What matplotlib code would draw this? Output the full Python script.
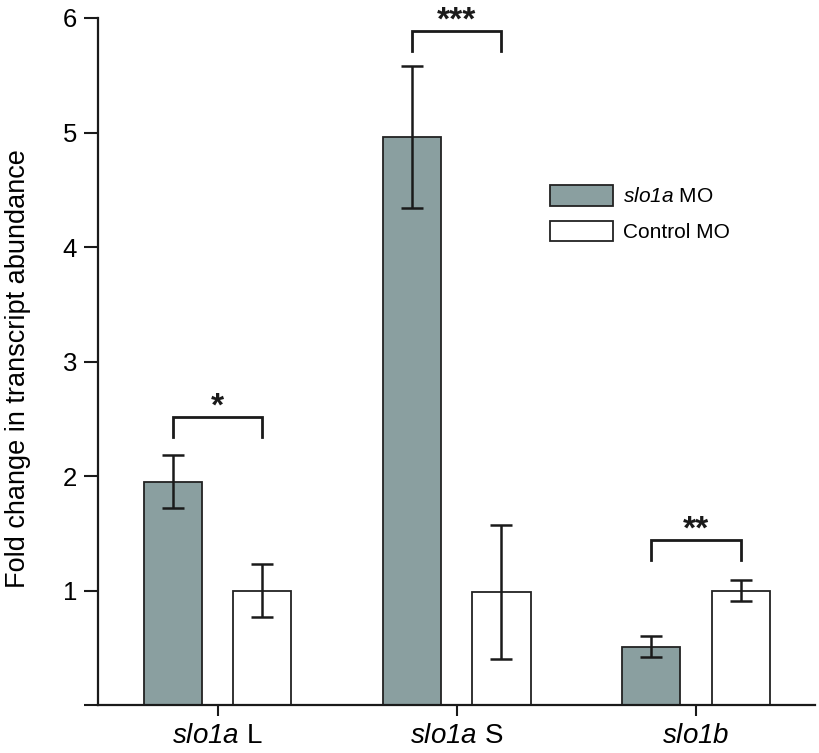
"""Fold change in transcript abundance: slo1a MO vs Control MO."""

import matplotlib
matplotlib.use("Agg")
import matplotlib.pyplot as plt
import numpy as np

plt.rcParams["font.family"] = ["Liberation Sans", "DejaVu Sans"]
# mathtext is only used for the italic gene names; digits fall back to "rm",
# so make both italic to keep "slo1a" fully slanted
plt.rcParams["mathtext.fontset"] = "custom"
plt.rcParams["mathtext.it"] = "Liberation Sans:italic"
plt.rcParams["mathtext.rm"] = "Liberation Sans:italic"

genes = ["slo1a", "slo1a", "slo1b"]
gene_suffix = [" L", " S", ""]
slo1a_mo = [1.95, 4.96, 0.51]
slo1a_mo_err = [0.23, 0.62, 0.09]
control_mo = [1.00, 0.99, 1.00]
control_mo_err = [0.23, 0.585, 0.09]
sig_labels = ["*", "***", "**"]
sig_heights = [2.515, 5.886, 1.44]

GRAY = "#8a9fa0"
INK = "#1a1a1a"
x = np.arange(len(genes))
w = 0.243
off = 0.187

fig = plt.figure(figsize=(8.19, 7.53), dpi=100)
ax = fig.add_axes([0.1197, 0.0637, 0.876, 0.9124])

ax.bar(x - off, slo1a_mo, w, color=GRAY, edgecolor="#222222", linewidth=1.3,
       label=r"$\mathit{slo1a}$ MO", zorder=2)
ax.bar(x + off, control_mo, w, color="white", edgecolor="#222222", linewidth=1.3,
       label="Control MO", zorder=2)
ax.errorbar(x - off, slo1a_mo, yerr=slo1a_mo_err, fmt="none", ecolor=INK,
            elinewidth=1.8, capsize=8, capthick=1.8, zorder=3)
ax.errorbar(x + off, control_mo, yerr=control_mo_err, fmt="none", ecolor=INK,
            elinewidth=1.8, capsize=8, capthick=1.8, zorder=3)

# significance brackets
for xi, h, lab in zip(x, sig_heights, sig_labels):
    x0, x1 = xi - off, xi + off
    ax.plot([x0, x0, x1, x1], [h - 0.17, h, h, h - 0.17], color=INK,
            lw=2.0, solid_joinstyle="miter", zorder=3)
    ax.text(xi, h + 0.01, lab, ha="center", va="baseline", fontsize=24,
            fontweight="bold", color=INK)

ax.set_xlim(-0.5, 2.5)
ax.set_ylim(0, 6)
ax.set_yticks([0, 1, 2, 3, 4, 5, 6])
ax.set_yticklabels(["", "1", "2", "3", "4", "5", "6"])
ax.set_xticks(x)
ax.set_xticklabels([rf"$\mathit{{{g}}}${s}" for g, s in zip(genes, gene_suffix)])
ax.tick_params(axis="y", labelsize=18.5, width=1.5, length=10, color=INK, pad=5)
ax.tick_params(axis="x", labelsize=20, width=1.5, length=8, color=INK, pad=5)
ax.set_ylabel("Fold change in transcript abundance", fontsize=19.5)
ax.yaxis.set_label_coords(-0.093, 0.49)

for side in ["top", "right"]:
    ax.spines[side].set_visible(False)
for side in ["left", "bottom"]:
    ax.spines[side].set_linewidth(1.6)
    ax.spines[side].set_color(INK)

ax.legend(loc="upper left", bbox_to_anchor=(0.630, 0.757), frameon=False,
          borderpad=0, borderaxespad=0, fontsize=15, handlelength=3.0,
          handleheight=1.15, handletextpad=0.5, labelspacing=0.68)

fig.savefig("out.png", dpi=100)
